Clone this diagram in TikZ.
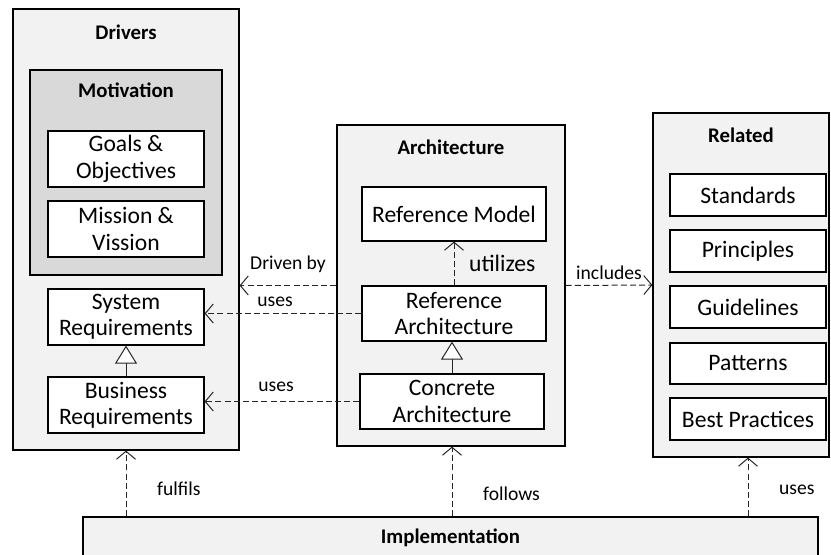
\documentclass[tikz,border=0pt]{standalone}
\usepackage{fontspec}
\setmainfont{Carlito}
\usetikzlibrary{arrows.meta}

\definecolor{groupgray}{HTML}{F2F2F2}
\definecolor{motivgray}{HTML}{D9D9D9}

\begin{document}
\begin{tikzpicture}[x=0.5pt, y=-0.5pt,
	group/.style={draw, fill=groupgray, line width=0.6pt, inner sep=0pt},
	item/.style={draw, fill=white, line width=0.6pt, inner sep=0pt, align=center,
		minimum width=78pt, minimum height=28pt, font=\fontsize{11.8}{13.2}\selectfont},
	title/.style={font=\bfseries\fontsize{10.4}{12}\selectfont},
	lbl/.style={font=\fontsize{9.8}{11}\selectfont},
	dep/.style={draw=black!85, line width=0.5pt, dash pattern=on 3pt off 1.6pt,
		-{Straight Barb[length=4pt, width=9.5pt]}},
	gen/.style={draw=black!85, line width=0.5pt, -{Triangle[open, length=9pt, width=11pt, fill=white]}}]
	\clip (0,0) rectangle (831,555);

	% containers
	\node[group, minimum width=113pt, minimum height=220.5pt] (drivers) at (126,229.5) {};
	\node[group, fill=motivgray, minimum width=96pt, minimum height=102.5pt] (motiv) at (126,172.5) {};
	\node[group, minimum width=114pt, minimum height=160.5pt] (arch) at (451,285.5) {};
	\node[group, minimum width=88pt, minimum height=172pt] (related) at (741,285) {};
	\node[group, minimum width=367.5pt, minimum height=24pt] (impl) at (450.5,541) {};

	\node[title] (drivers-t) at (126,32) {Drivers};
	\node[title] (motiv-t) at (126,90) {Motivation};
	\node[title] (arch-t) at (451,147) {Architecture};
	\node[title] (related-t) at (741,135) {Related};
	\node[title] (impl-t) at (450.5,538) {Implementation};

	% drivers
	\node[item] (goals) at (126,159) {Goals \&\\Objectives};
	\node[item] (mission) at (126,229) {Mission \&\\Vission};
	\node[item] (sysreq) at (126,317) {System\\Requirements};
	\node[item] (busreq) at (126,405) {Business\\Requirements};

	% architecture
	\node[item, minimum width=92pt, minimum height=27pt] (refmodel) at (454,214) {Reference Model};
	\node[item, minimum width=92pt, minimum height=27.5pt] (refarch) at (454,313.5) {Reference\\Architecture};
	\node[item, minimum width=92pt, minimum height=27.5pt] (concarch) at (452,401.5) {Concrete\\Architecture};

	% related
	\node[item, minimum height=21pt] (standards) at (748,195) {Standards};
	\node[item, minimum height=21pt] (principles) at (748,251) {Principles};
	\node[item, minimum height=21pt] (guidelines) at (748,307) {Guidelines};
	\node[item, minimum height=20.5pt] (patterns) at (748,363.5) {Patterns};
	\node[item, minimum height=21pt] (bestprac) at (748,419) {Best Practices};

	% generalisations
	\draw[gen] (busreq.north) -- (sysreq.south);
	\draw[gen] (concarch.north) -- (concarch.north |- refarch.south);

	% dependencies
	\draw[dep] (refarch.north) -- (refmodel.south)
		node[midway, right=4pt, font=\fontsize{11.8}{13}\selectfont] (utilizes-l) {utilizes};
	\draw[dep] (arch.west) -- (arch.west -| drivers.east)
		node[midway, above=3pt, lbl] (driven-l) {Driven by};
	\draw[dep] (refarch.west) -- (refarch.west -| sysreq.east)
		node[pos=0.5, above=0pt, lbl, xshift=-4pt] (uses1-l) {uses};
	\draw[dep] (concarch.west) -- (concarch.west -| busreq.east)
		node[pos=0.5, above=1.5pt, lbl, xshift=-3pt] (uses2-l) {uses};
	\draw[dep] (arch.east) -- (related.west)
		node[midway, above=-1pt, lbl] (includes-l) {includes};
	\draw[dep] (impl.north -| drivers.south) -- (drivers.south)
		node[pos=0.42, right=12pt, lbl] (fulfils-l) {fulfils};
	\draw[dep] (impl.north -| concarch.south) -- (arch.south -| concarch.south)
		node[pos=0.33, right=12pt, lbl] (follows-l) {follows};
	\draw[dep] (impl.north -| bestprac.south) -- (related.south -| bestprac.south)
		node[pos=0.45, right=12pt, lbl] (uses3-l) {uses};
\end{tikzpicture}
\end{document}
